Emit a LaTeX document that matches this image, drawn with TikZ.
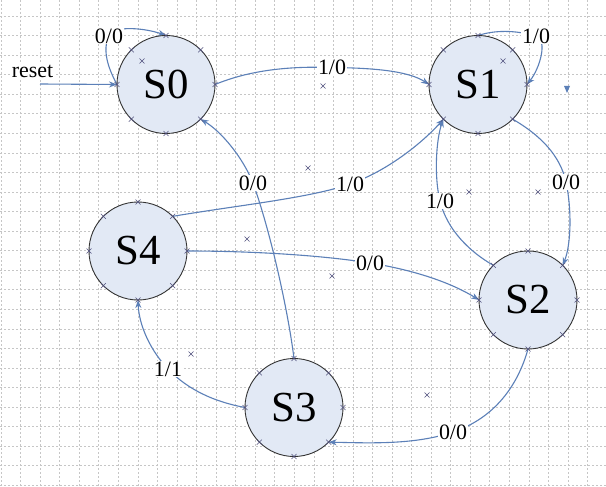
\documentclass[tikz,border=0pt]{standalone}
\usepackage{fontspec}
\setmainfont{Liberation Serif}
\usetikzlibrary{arrows.meta}
\pgfdeclarelayer{gridlayer}
\pgfdeclarelayer{edgelayer}
\pgfsetlayers{gridlayer,edgelayer,main}
\definecolor{edgecol}{RGB}{92,128,184}
\definecolor{statefill}{RGB}{226,233,245}
\definecolor{gridcol}{RGB}{198,198,198}
\definecolor{crosscol}{RGB}{80,80,125}
\newcommand{\mycross}[1]{\draw[crossmk] (#1) ++(-2.5,-2.5) -- ++(5,5) ++(-5,0) -- ++(5,-5);}
\begin{document}
\begin{tikzpicture}[x=1bp,y=-1bp,
  state/.style={circle,draw=black!80,line width=0.9bp,fill=statefill,minimum size=98bp,inner sep=0pt,outer sep=0pt,font=\fontsize{43}{43}\selectfont},
  lab/.style={fill=white,inner sep=1bp,font=\fontsize{22}{22}\selectfont},
  edge/.style={draw=edgecol,line width=1.1bp,-{Stealth[length=8bp,width=6bp]}},
  gridline/.style={draw=gridcol,line width=0.6bp,dash pattern=on 2bp off 2bp},
  crossmk/.style={draw=crosscol,line width=0.6bp}]
\useasboundingbox (0,0) rectangle (606,487);
\begin{pgfonlayer}{gridlayer}
  \fill[white] (0,0) rectangle (606,487);
  \foreach \k in {0,...,30} {\draw[gridline] ({1+19.55*\k},0) -- ({1+19.55*\k},487);}
  \foreach \k in {0,...,24} {\draw[gridline] (0,{16+19.55*\k}) -- (606,{16+19.55*\k});}
\end{pgfonlayer}

% states
\node[state] (S0) at (166,84.5) {S0};
\node[state] (S1) at (478,84.5) {S1};
\node[state] (S4) at (138,251) {S4};
\node[state] (S3) at (294,407.5) {S3};
\node[state] (S2) at (528,300) {S2};

% labels
\node[lab] (lr) at (32.5,71) {reset};
\node[lab] (l2) at (109,36) {0/0};
\node[lab] (l3) at (332,67.5) {1/0};
\node[lab] (l4) at (536,36) {1/0};
\node[lab] (l5) at (566,182) {0/0};
\node[lab] (l6) at (440,201) {1/0};
\node[lab] (l7) at (350,184) {1/0};
\node[lab] (l8) at (370,263) {0/0};
\node[lab] (l9) at (253,183) {0/0};
\node[lab] (l10) at (168,369) {1/1};
\node[lab] (l11) at (453,432) {0/0};

\coordinate (rs) at (40,84);

\begin{pgfonlayer}{edgelayer}
  \draw[edge] (rs) -- (S0.west);
  \draw[edge] (S0.west) .. controls (108,68) and (102,50) .. (l2.center) .. controls (113,25) and (145,28) .. (S0.north);
  \draw[edge] (S0.east) .. controls (250,70) and (290,66) .. (l3.center) .. controls (380,68) and (410,72) .. (S1.west);
  \draw[edge] (S1.north) .. controls (495,30) and (515,30) .. (l4.center) .. controls (548,40) and (540,68) .. (S1.east);
  \draw[edge] (S1.south east) .. controls (540,135) and (560,155) .. (l5.center) .. controls (572,210) and (571,245) .. (S2.north east);
  \draw[edge] (S2.north west) .. controls (470,252) and (447,230) .. (l6.center) .. controls (434,177) and (436,140) .. (S1.south west);
  \draw[edge] (S4.north east) .. controls (240,205) and (310,198) .. (l7.center) .. controls (390,170) and (425,140) .. (S1.south west);
  \draw[edge] (S4.east) .. controls (250,251) and (320,255) .. (l8.center) .. controls (420,271) and (455,285) .. (S2.west);
  \draw[edge] (S3.north) .. controls (288,310) and (270,230) .. (l9.center) .. controls (243,158) and (222,132) .. (S0.south east);
  \draw[edge] (S3.west) .. controls (215,402) and (188,390) .. (l10.center) .. controls (150,350) and (139,325) .. (S4.south);
  \draw[edge] (S2.south) .. controls (518,385) and (495,418) .. (l11.center) .. controls (415,445) and (370,443) .. (S3.south east);
\end{pgfonlayer}

% stray arrowhead
\fill[edgecol] (564,86) -- (570,86) -- (567,93) -- cycle;

% connection-point crosses
\foreach \n in {S0,S1,S2,S3,S4} {
  \foreach \a in {0,45,...,315} {\mycross{\n.\a}}
}
\foreach \p in {(142,61),(503,61),(323,86),(308,168),(469,192),(538,192),(247,239),(332,276),(191,354),(427,395)} {
  \draw[crossmk] \p ++(-2.5,-2.5) -- ++(5,5) ++(-5,0) -- ++(5,-5);
}
\end{tikzpicture}
\end{document}
